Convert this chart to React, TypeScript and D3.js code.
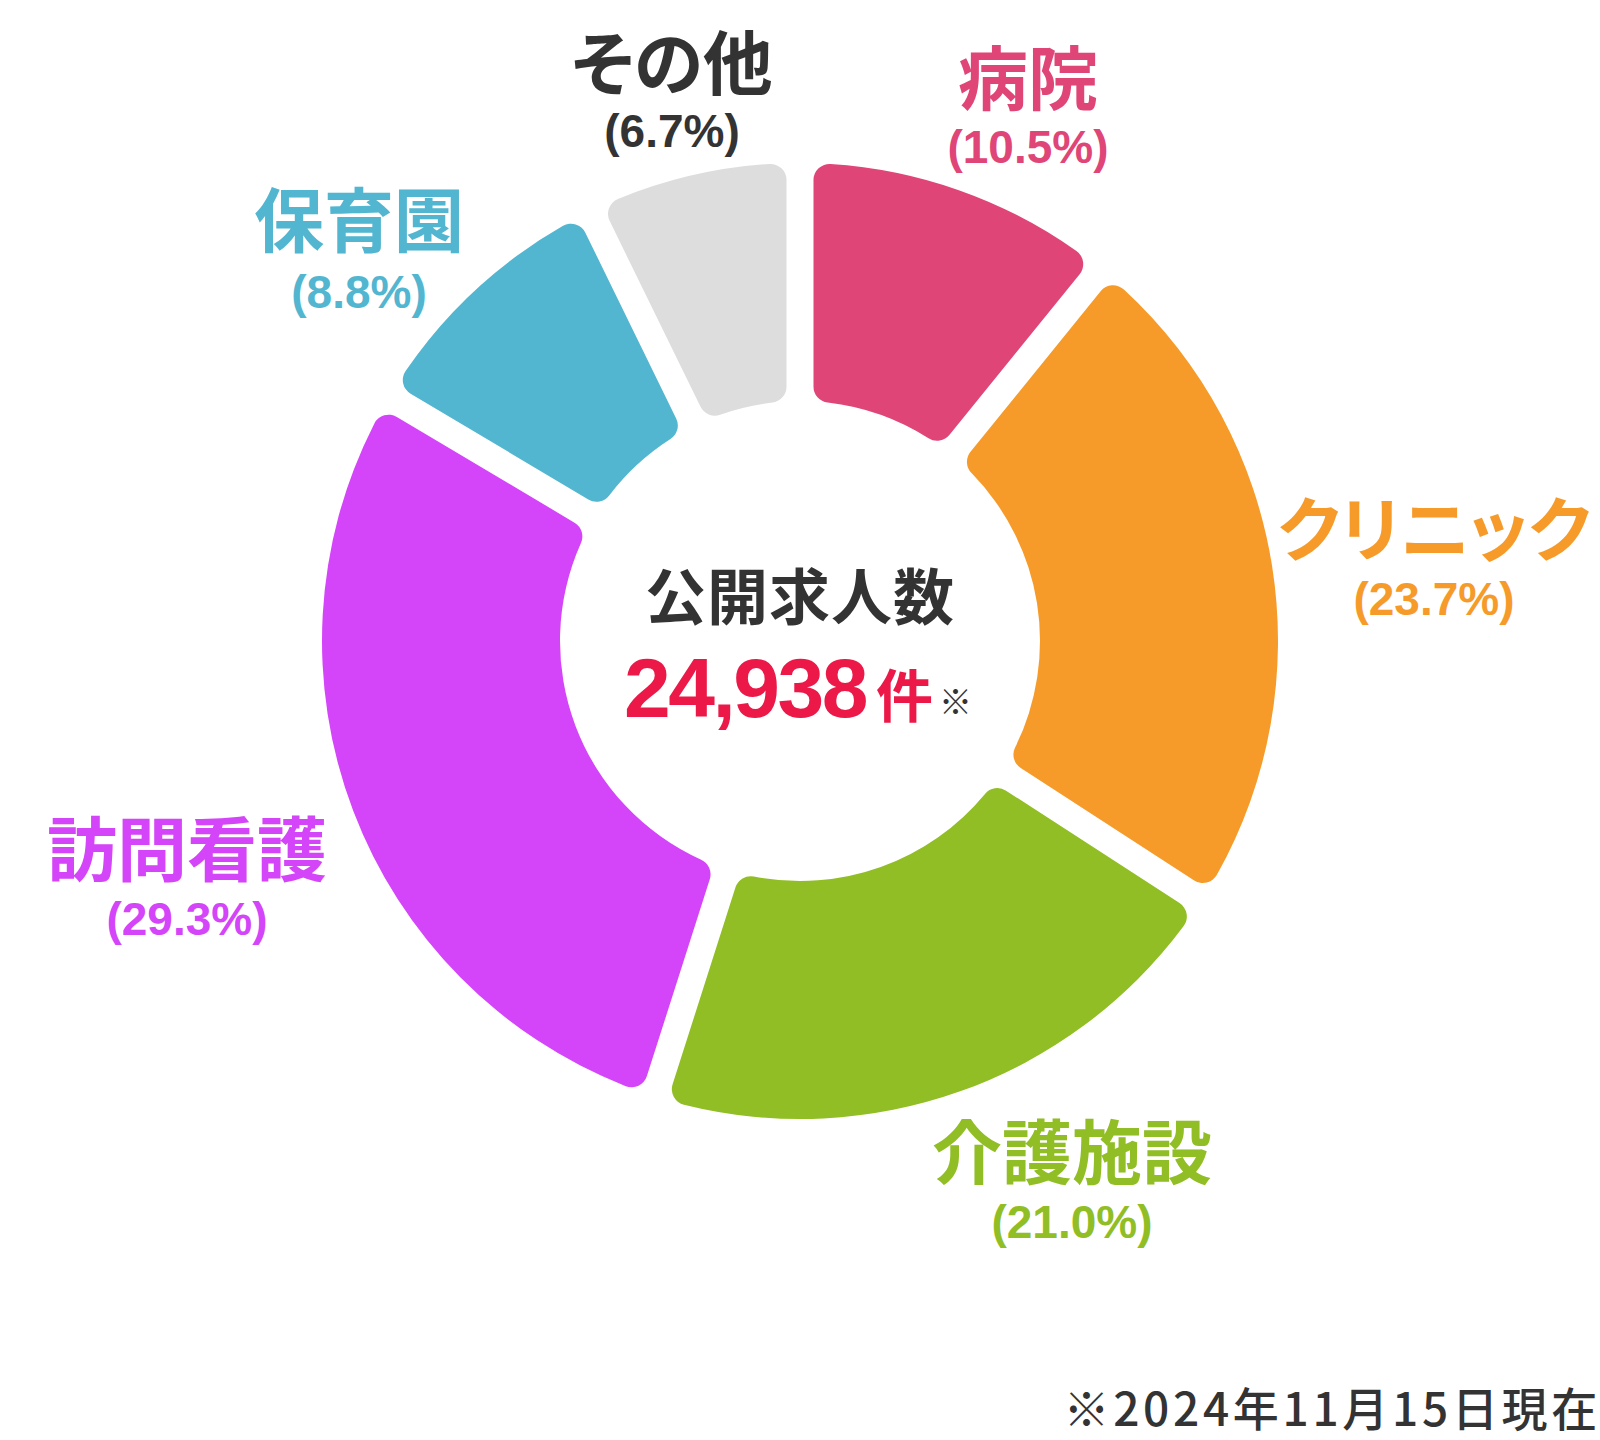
import React from 'react';
import * as d3 from 'd3';

// ---- data ----
const categories = ['病院', 'クリニック', '介護施設', '訪問看護', '保育園', 'その他'];
const shares = [10.5, 23.7, 21.0, 29.3, 8.8, 6.7];
const sliceColors = ['#E04578', '#F69B29', '#90BE24', '#D444F8', '#52B6D0', '#DDDDDD'];
const labelColors = ['#E04578', '#F69B29', '#90BE24', '#D444F8', '#52B6D0', '#333333'];
const centerTitle = '公開求人数';
const totalCount = 24938;
const countUnit = '件';
const countMark = '※';
const footnote = '※2024年11月15日現在';

// ---- layout ----
const W = 1600;
const H = 1440;
const CX = 800;
const CY = 641;
const R_OUT = 478;
const R_IN = 240;
const GAP = 27;
// label anchor: [x, y of name centre, y of percentage baseline]
const labelLayout: [number, number, number][] = [
  [1028, 74, 163],
  [1434, 525, 615],
  [1072, 1148, 1238],
  [187, 845, 935],
  [359, 216, 308],
  [672, 59, 147],
];

const CJK = '"Noto Sans CJK JP", "Noto Sans CJK SC", sans-serif';
const LATIN = '"Liberation Sans", Arial, Helvetica, sans-serif';

export default function App() {
  const pie = d3
    .pie<number>()
    .sort(null)
    .value((d) => d)
    .padAngle(GAP / R_OUT);
  const arcs = pie(shares);
  const arc = d3
    .arc<d3.PieArcDatum<number>>()
    .innerRadius(R_IN)
    .outerRadius(R_OUT)
    .cornerRadius(16)
    .padRadius(R_OUT);
  const fmt = d3.format(',');

  return (
    <div style={{ position: 'absolute', left: 0, top: 0, width: W, height: H, background: '#fff' }}>
      <svg width={W} height={H} viewBox={`0 0 ${W} ${H}`} style={{ display: 'block' }}>
        <rect x={0} y={0} width={W} height={H} fill="#ffffff" />
        <g transform={`translate(${CX},${CY})`}>
          {arcs.map((a, i) => (
            <path key={categories[i]} d={arc(a) || ''} fill={sliceColors[i]} />
          ))}
        </g>
        {categories.map((c, i) => {
          const [x, yName, yPct] = labelLayout[i];
          return (
            <g key={c}>
              <text
                x={x}
                y={yName}
                textAnchor="middle"
                dominantBaseline="central"
                fontFamily={CJK}
                fontWeight={700}
                fontSize={70}
                fill={labelColors[i]}
                style={{ fontFeatureSettings: '"palt"' }}
              >
                {c}
              </text>
              <text
                x={x}
                y={yPct}
                textAnchor="middle"
                fontFamily={LATIN}
                fontWeight={700}
                fontSize={46}
                fill={labelColors[i]}
              >
                {`(${shares[i].toFixed(1)}%)`}
              </text>
            </g>
          );
        })}
        <text
          x={CX}
          y={593}
          textAnchor="middle"
          dominantBaseline="central"
          fontFamily={CJK}
          fontWeight={700}
          fontSize={61}
          letterSpacing={1}
          fill="#333333"
        >
          {centerTitle}
        </text>
        <text x={798} y={717} textAnchor="middle">
          <tspan fontFamily={LATIN} fontWeight={700} fontSize={84} letterSpacing={-2.5} fill="#EC1848">
            {fmt(totalCount)}
          </tspan>
          <tspan fontFamily={CJK} fontWeight={700} fontSize={57} fill="#EC1848" dx={10}>
            {countUnit}
          </tspan>
          <tspan fontFamily={CJK} fontWeight={400} fontSize={33} fill="#333333" dx={6} dy={-3}>
            {countMark}
          </tspan>
        </text>
        <text
          x={1601}
          y={1406}
          textAnchor="end"
          dominantBaseline="central"
          fontFamily={CJK}
          fontWeight={500}
          fontSize={46}
          letterSpacing={3.7}
          fill="#333333"
        >
          {footnote}
        </text>
      </svg>
    </div>
  );
}
